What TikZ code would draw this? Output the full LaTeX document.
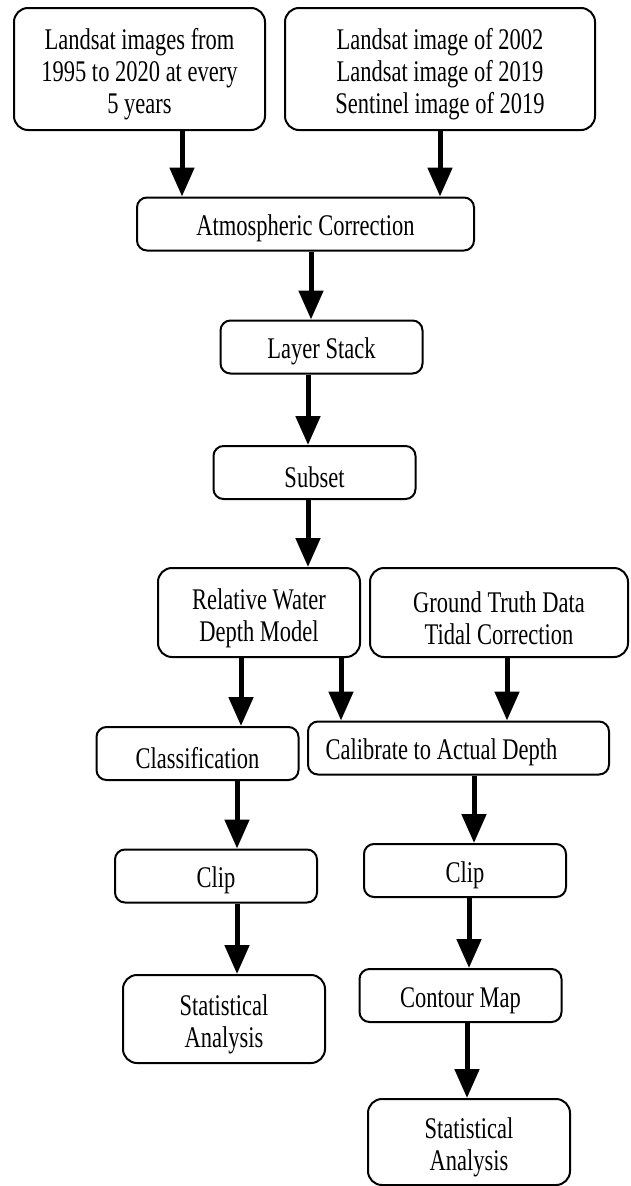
\documentclass[tikz,border=0pt]{standalone}
\usepackage{fontspec}
\setmainfont{Liberation Serif}[FakeStretch=0.75]
\usetikzlibrary{arrows.meta}
\newcommand\topgap[1]{\rule{0pt}{#1pt}}
\begin{document}
\begin{tikzpicture}[x=1pt,y=-1pt,
    stepbox/.style={draw,line width=2pt,rounded corners=10pt,align=center,inner sep=0pt,
      minimum width=202pt,minimum height=53pt,font=\fontsize{30}{32}\selectfont},
    tallbox/.style={stepbox,minimum height=88pt,rounded corners=14pt},
    flow/.style={line width=5pt,-{Triangle[width=24pt,length=29pt]}}]
  \useasboundingbox (0,0) rectangle (630,1186);
  \node[tallbox,minimum width=251pt,minimum height=122pt] (in1) at (139.5,69)
    {\topgap{32}Landsat images from\\1995 to 2020 at every\\5 years};
  \node[tallbox,minimum width=310pt,minimum height=122pt] (in2) at (440,69)
    {\topgap{32}Landsat image of 2002\\Landsat image of 2019\\Sentinel image of 2019};
  \node[stepbox,minimum width=337pt] (atm) at (305.5,224) {\topgap{30}Atmospheric Correction};
  \node[stepbox] (stack) at (321.5,347) {\topgap{30}Layer Stack};
  \node[stepbox] (subset) at (314.5,472.5) {\topgap{30}Subset};
  \node[tallbox,minimum height=89pt] (rwd) at (259,612.5) {\topgap{32}Relative Water\\Depth Model};
  \node[tallbox,minimum width=258pt,minimum height=89pt] (gtd) at (499,612.5)
    {\topgap{32}Ground Truth Data\\Tidal Correction};
  \node[stepbox] (cls) at (197.5,753.5) {\topgap{30}Classification};
  \node[stepbox,minimum width=301pt] (cal) at (458.5,748)
    {\topgap{30}Calibrate to Actual Depth\hspace*{34pt}};
  \node[stepbox] (clipl) at (216,876) {\topgap{30}Clip};
  \node[stepbox] (clipr) at (465,870.5) {\topgap{30}Clip};
  \node[tallbox] (statl) at (224,1019) {\topgap{32}Statistical\\Analysis};
  \node[stepbox] (contour) at (460.5,995.5) {\topgap{30}Contour Map};
  \node[tallbox,minimum height=86pt] (statr) at (469,1142) {\topgap{32}Statistical\\Analysis};
  \foreach \a/\b/\x in {in1/atm/182, in2/atm/440, atm/stack/311, stack/subset/308,
      subset/rwd/308, rwd/cls/241, rwd/cal/341, gtd/cal/507, cls/clipl/237,
      cal/clipr/474, clipl/statl/237, clipr/contour/469, contour/statr/467}
    \draw[flow] (\x,0 |- \a.south) -- (\x,0 |- \b.north);
\end{tikzpicture}
\end{document}
